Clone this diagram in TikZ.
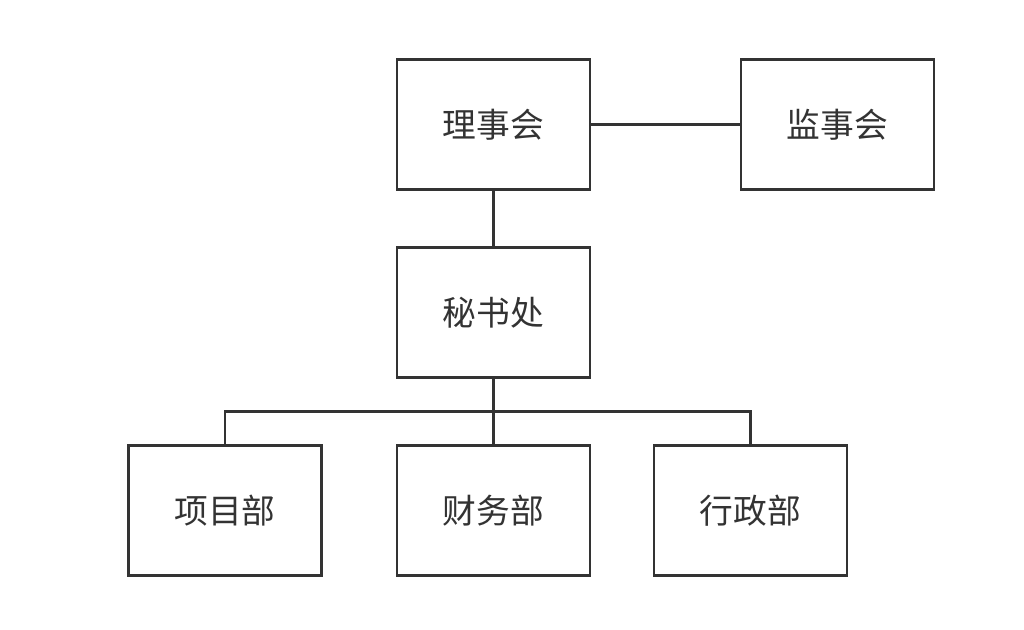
\documentclass[tikz,border=0pt]{standalone}
\usepackage{fontspec}
\newfontfamily\cjk{Noto Sans CJK SC}
\usetikzlibrary{positioning}
\definecolor{linegray}{HTML}{333333}
\tikzset{
  orgbox/.style={draw=linegray, line width=0.85pt, minimum width=1.93cm, minimum height=1.30cm, inner sep=0pt, font=\cjk\fontsize{9.6pt}{11pt}\selectfont, text=linegray},
  link/.style={draw=linegray, line width=0.85pt}
}
\begin{document}
\begin{tikzpicture}
            \useasboundingbox (0,0) rectangle (10.24,-6.30);
            \node[orgbox] (board) at (4.935, -1.25) {理事会};
            \node[orgbox] (super) at (8.375, -1.25) {监事会};
            \node[orgbox] (sec) at (4.935, -3.125) {秘书处};
            \node[orgbox] (proj) at (2.25, -5.105) {项目部};
            \node[orgbox] (fin) at (4.935, -5.105) {财务部};
            \node[orgbox] (adm) at (7.505, -5.105) {行政部};
            \coordinate (bus) at (4.935, -4.115);
        
            \draw[link] (board) -- (super);
            \draw[link] (board) -- (sec);
            \draw[link] (sec) -- (fin);
            \draw[link] (proj.north) |- (bus) -| (adm.north);
        \end{tikzpicture}
\end{document}
